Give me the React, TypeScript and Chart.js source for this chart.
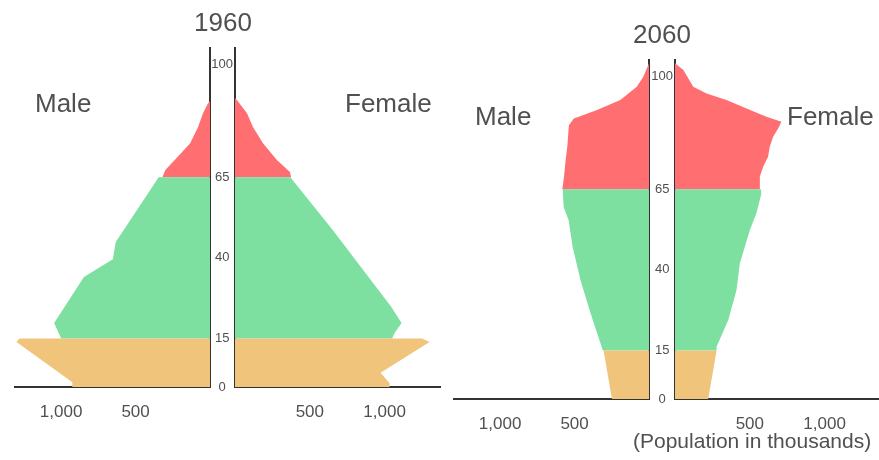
import React, { useEffect, useRef } from "react";
import { Chart, registerables } from "chart.js";

Chart.register(...registerables);

const FONT = "'Liberation Sans', Arial, sans-serif";
Chart.defaults.font.family = FONT;

// ---------- axes / ticks ----------
const AGE_TICKS = [0, 15, 40, 65, 100];
const POP_TICKS = [500, 1000];
const AGE_MAX = 105;
const MALE_MAX = 1310;
const FEMALE_MAX = 1370;

// ---------- colours ----------
const COLOR_YOUNG = "#F1C47B";
const COLOR_WORK = "#7EE0A0";
const COLOR_OLD = "#FF6E70";

// ---------- 1960 (population in thousands, outline vertices by age) ----------
const m1960YoungAges = [0, 1.5, 13.9, 15];
const m1960YoungPop = [925, 925, 1300, 1280];
const m1960WorkAges = [15, 19.8, 34.1, 39.6, 44.9, 65];
const m1960WorkPop = [1000, 1047, 847, 653, 633, 345];
const m1960OldAges = [65, 67.2, 71.2, 75.5, 80.5, 84.8, 87.9, 88.5];
const m1960OldPop = [320, 300, 220, 133, 80, 47, 13, 0];

const f1960YoungAges = [0, 1.2, 4.4, 13.9, 15];
const f1960YoungPop = [1033, 1033, 973, 1300, 1250];
const f1960WorkAges = [15, 16.7, 19.8, 24.8, 48.6, 65];
const f1960WorkPop = [1050, 1067, 1113, 1045, 653, 370];
const f1960OldAges = [65, 66.6, 70.3, 75.5, 80.5, 84.8, 88.9, 89.5];
const f1960OldPop = [375, 367, 280, 187, 120, 80, 13, 0];

// ---------- 2060 ----------
const m2060YoungAges = [0, 15];
const m2060YoungPop = [249, 305];
const m2060WorkAges = [15, 19.2, 26.6, 36.8, 47.1, 55.4, 59.4, 65];
const m2060WorkPop = [310, 340, 393, 460, 513, 540, 573, 580];
const m2060OldAges = [65, 68.8, 74, 78.1, 84.8, 86.9, 89.5, 92.6, 96.7, 99.8, 104];
const m2060OldPop = [582, 571, 560, 549, 538, 505, 349, 193, 82, 38, 0];

const f2060YoungAges = [0, 15];
const f2060YoungPop = [222, 278];
const f2060WorkAges = [15, 16.2, 24.5, 33.7, 42, 52.3, 57.5, 63.7, 65];
const f2060WorkPop = [275, 278, 356, 411, 433, 500, 544, 578, 575];
const f2060OldAges = [65, 68.8, 71.9, 75, 78.1, 81.2, 83.8, 85.9, 87.4, 90, 92.6, 94.6, 96.7, 101.9, 104];
const f2060OldPop = [567, 567, 589, 622, 633, 656, 689, 711, 611, 478, 344, 211, 122, 56, 0];

type Band = { ages: number[]; pop: number[]; color: string };

const TEXT_COLOR = "#505050";
const AXIS_COLOR = "#333333";

function HalfPyramid(props: { side: "male" | "female"; left: number; top: number; bands: Band[] }) {
  const ref = useRef<HTMLCanvasElement | null>(null);
  const isMale = props.side === "male";
  const w = isMale ? 214 : 237;
  const h = 437;

  useEffect(() => {
    if (!ref.current) return;
    const datasets = props.bands.map((b) => ({
      data: [
        { x: 0, y: b.ages[0] },
        ...b.ages.map((a, i) => ({ x: b.pop[i], y: a })),
        { x: 0, y: b.ages[b.ages.length - 1] },
      ],
      showLine: true,
      fill: "shape",
      backgroundColor: b.color,
      borderColor: "rgba(0,0,0,0)",
      borderWidth: 0,
      pointRadius: 0,
      pointHoverRadius: 0,
      tension: 0,
    }));
    const chart = new Chart(ref.current, {
      type: "scatter",
      data: { datasets: datasets as any },
      options: {
        animation: false,
        responsive: false,
        maintainAspectRatio: false,
        events: [],
        layout: {
          padding: isMale
            ? { left: 15, top: 48, right: 0, bottom: 0 }
            : { left: 0, top: 48, right: 2, bottom: 0 },
        },
        plugins: {
          legend: { display: false },
          tooltip: { enabled: false },
          title: { display: false },
        },
        scales: {
          x: {
            type: "linear",
            reverse: isMale,
            min: 0,
            max: isMale ? MALE_MAX : FEMALE_MAX,
            grid: { display: false, drawTicks: false },
            border: { display: true, color: AXIS_COLOR, width: 2 },
            ticks: {
              padding: 15,
              color: TEXT_COLOR,
              font: { size: 17, family: FONT },
              callback: (v: any) => Number(v).toLocaleString("en-US"),
            },
            afterBuildTicks: (s: any) => {
              s.ticks = POP_TICKS.map((v) => ({ value: v }));
            },
            afterFit: (s: any) => {
              s.height = 50;
            },
          },
          y: {
            type: "linear",
            position: isMale ? "right" : "left",
            min: 0,
            max: AGE_MAX,
            grid: { display: false, drawTicks: false },
            border: { display: true, color: AXIS_COLOR, width: 2 },
            ticks: {
              display: !isMale,
              padding: 2,
              crossAlign: "center",
              color: TEXT_COLOR,
              font: { size: 13, family: FONT },
              callback: (v: any) => String(v),
            },
            afterBuildTicks: (s: any) => {
              s.ticks = AGE_TICKS.map((v) => ({ value: v }));
            },
            afterFit: (s: any) => {
              s.width = isMale ? 4 : 30;
            },
          },
        },
      } as any,
    });
    return () => chart.destroy();
  }, []);

  return (
    <canvas
      ref={ref}
      width={w}
      height={h}
      style={{ position: "absolute", left: props.left, top: props.top, width: w, height: h }}
    />
  );
}

function Label(props: { text: string; x: number; y: number; size: number; anchor?: "left" | "center" }) {
  const center = props.anchor === "center";
  return (
    <div
      style={{
        position: "absolute",
        left: props.x,
        top: props.y,
        transform: center ? "translate(-50%, -50%)" : "translate(0, -50%)",
        fontFamily: FONT,
        fontSize: props.size,
        lineHeight: 1,
        color: TEXT_COLOR,
        whiteSpace: "nowrap",
      }}
    >
      {props.text}
    </div>
  );
}

export default function App() {
  const m1960: Band[] = [
    { ages: m1960YoungAges, pop: m1960YoungPop, color: COLOR_YOUNG },
    { ages: m1960WorkAges, pop: m1960WorkPop, color: COLOR_WORK },
    { ages: m1960OldAges, pop: m1960OldPop, color: COLOR_OLD },
  ];
  const f1960: Band[] = [
    { ages: f1960YoungAges, pop: f1960YoungPop, color: COLOR_YOUNG },
    { ages: f1960WorkAges, pop: f1960WorkPop, color: COLOR_WORK },
    { ages: f1960OldAges, pop: f1960OldPop, color: COLOR_OLD },
  ];
  const m2060: Band[] = [
    { ages: m2060YoungAges, pop: m2060YoungPop, color: COLOR_YOUNG },
    { ages: m2060WorkAges, pop: m2060WorkPop, color: COLOR_WORK },
    { ages: m2060OldAges, pop: m2060OldPop, color: COLOR_OLD },
  ];
  const f2060: Band[] = [
    { ages: f2060YoungAges, pop: f2060YoungPop, color: COLOR_YOUNG },
    { ages: f2060WorkAges, pop: f2060WorkPop, color: COLOR_WORK },
    { ages: f2060OldAges, pop: f2060OldPop, color: COLOR_OLD },
  ];

  return (
    <div
      style={{
        position: "absolute",
        left: 0,
        top: 0,
        width: 879,
        height: 460,
        overflow: "hidden",
        background: "#ffffff",
      }}
    >
      <HalfPyramid side="male" left={0} top={0} bands={m1960} />
      <HalfPyramid side="female" left={205} top={0} bands={f1960} />
      <HalfPyramid side="male" left={439} top={12} bands={m2060} />
      <HalfPyramid side="female" left={645} top={12} bands={f2060} />

      <Label text="1960" x={223} y={22} size={26} anchor="center" />
      <Label text="2060" x={662} y={34} size={26} anchor="center" />
      <Label text="Male" x={35} y={103} size={26} />
      <Label text="Female" x={345} y={103} size={26} />
      <Label text="Male" x={475} y={116} size={26} />
      <Label text="Female" x={787} y={116} size={26} />
      <Label text="(Population in thousands)" x={633} y={440} size={21} />
    </div>
  );
}
